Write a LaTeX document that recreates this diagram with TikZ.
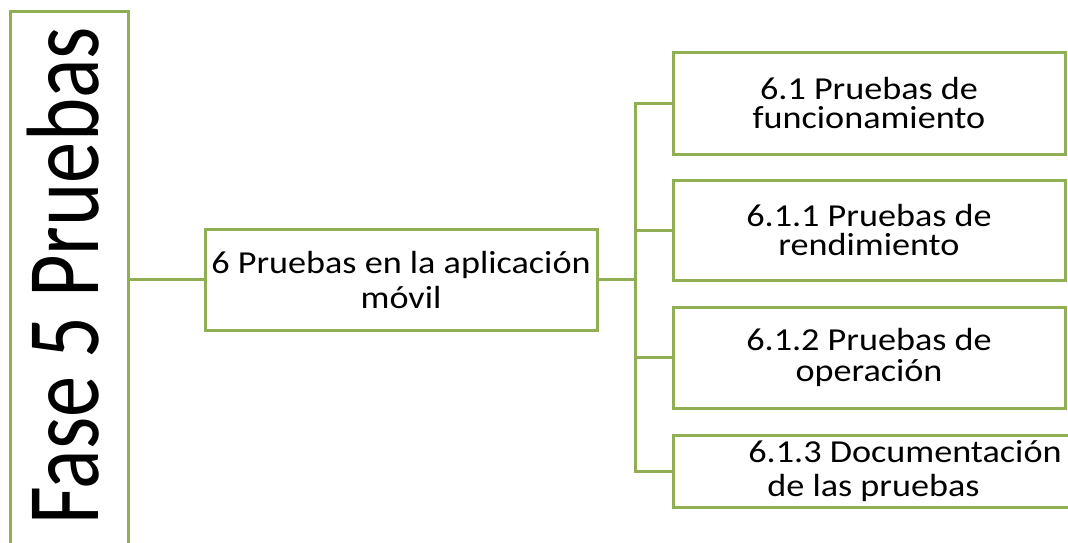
\documentclass[tikz,border=0pt]{standalone}
\usepackage{fontspec}
\setmainfont{Carlito}[FakeStretch=1.13]
\newfontfamily\bigfont{Carlito}[FakeStretch=0.8]
\definecolor{og}{RGB}{143,175,82}
\begin{document}
\begin{tikzpicture}[x=1pt,y=-1pt,
  box/.style={draw=og, line width=3pt, rectangle, inner sep=0pt, align=center, text=black},
  conn/.style={draw=og, line width=3pt}]
\clip (0,0) rectangle (1068,543);
\fill[white] (0,0) rectangle (1068,543);
% left box and its label
\node[box, minimum width=118pt, minimum height=550pt] (lbox) at (69,287) {};
\node[inner sep=0pt, rotate=90, font=\bigfont\fontsize{103}{110}\selectfont] (ltext) at (63.5,276) {Fase 5 Pruebas};
% middle box
\node[box, minimum width=392pt, minimum height=101pt, font=\fontsize{32}{35}\selectfont] (mid) at (401,279.5) {6 Pruebas en la aplicación\\móvil};
% right boxes
\node[box, minimum width=392pt, minimum height=101pt, font=\fontsize{32}{29}\selectfont] (b1) at (869,103.5) {6.1 Pruebas de\\funcionamiento};
\node[box, minimum width=392pt, minimum height=100pt, font=\fontsize{32}{29}\selectfont] (b2) at (869,230) {6.1.1 Pruebas de\\rendimiento};
\node[box, minimum width=392pt, minimum height=101pt, font=\fontsize{32}{31}\selectfont] (b3) at (869,357.5) {6.1.2 Pruebas de\\operación};
\node[box, minimum width=464pt, minimum height=72pt, align=left, font=\fontsize{32}{34}\selectfont] (b4) at (905,471) {6.1.3 Documentación\\\hspace*{19pt}de las pruebas};
% connectors
\coordinate (j) at (635,279.5);
\draw[conn] (lbox.east |- mid.west) -- (mid.west);
\draw[conn] (mid.east) -- (j);
\draw[conn] (j) |- (b1.west);
\draw[conn] (j) |- (b2.west);
\draw[conn] (j) |- (b3.west);
\draw[conn] (j) |- (b4.west);
\end{tikzpicture}
\end{document}
